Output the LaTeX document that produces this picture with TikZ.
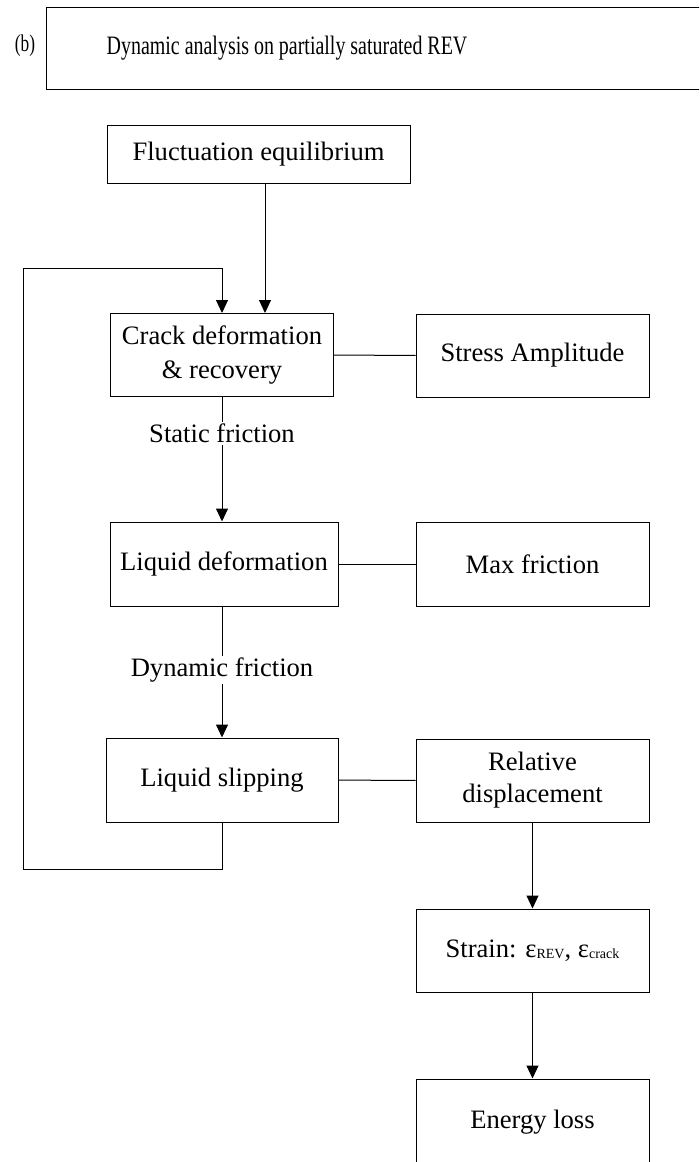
\documentclass[tikz,border=0pt]{standalone}
\usepackage{fontspec}
\setmainfont{Liberation Serif}
\usetikzlibrary{arrows.meta}

\begin{document}
\begin{tikzpicture}[x=1pt,y=-1pt,line width=1pt,
  box/.style={draw,minimum width=233pt,minimum height=83pt,align=center,inner sep=0pt},
  arr/.style={-{Triangle[width=12pt,length=13pt]}},
  lbl/.style={fill=white,inner sep=2pt},
  font=\fontsize{26.6}{34}\selectfont]

\useasboundingbox (0,0) rectangle (699,1162);
\clip (0,0) rectangle (699,1162);

% heading
\node[font=\fontsize{24}{28}\selectfont] (tag) at (25,46) {\scalebox{0.72}[1]{(b)}};
\node[box,anchor=north west,minimum width=700pt,minimum height=82pt] (head) at (46,7) {};
\node (headtext) at (287,48) {\scalebox{0.75}[1]{Dynamic analysis on partially saturated REV}};

% left column
\node[box,minimum width=303pt,minimum height=58pt] (fluct) at (258.5,154) {Fluctuation equilibrium};
\node[box,minimum width=223pt] (crack) at (222,355) {Crack deformation\\\& recovery};
\node[box,minimum width=228pt,minimum height=84pt] (liqdef) at (224,564) {Liquid deformation};
\node[box,minimum width=232pt,minimum height=84pt] (slip) at (222,780) {Liquid slipping};

% right column
\node[box] (stress) at (532.5,355.5) {Stress Amplitude};
\node[box,minimum height=84pt] (maxfr) at (532.5,564) {Max friction};
\node[box] (reldisp) at (532.5,780.5) {Relative\\[-2pt]displacement};
\node[box] (strain) at (532.5,950.5)
  {Strain: ε\raisebox{-1pt}{\fontsize{14}{14}\selectfont REV}, ε\raisebox{-1pt}{\fontsize{14}{14}\selectfont crack}};
\node[box,minimum height=86pt] (energy) at (532.5,1122) {Energy loss};

% connectors
\coordinate (fx) at (265,0);
\coordinate (loopb) at (23,869);
\coordinate (loopt) at (23,268);

\draw[arr] (fluct.south -| fx) -- (crack.north -| fx);
\draw[arr] (slip.south) |- (loopb) -- (loopt) -| (crack.north);
\draw[arr] (crack.south) -- (liqdef.north -| crack.south);
\draw[arr] (liqdef.south -| slip.north) -- (slip.north);
\draw[arr] (reldisp) -- (strain);
\draw[arr] (strain) -- (energy);

\draw (crack) -- (stress);
\draw (liqdef) -- (maxfr);
\draw (slip) -- (reldisp);

\node[lbl] (static) at (222,433) {Static friction};
\node[lbl] (dynamic) at (222,670) {Dynamic friction};
\end{tikzpicture}
\end{document}
